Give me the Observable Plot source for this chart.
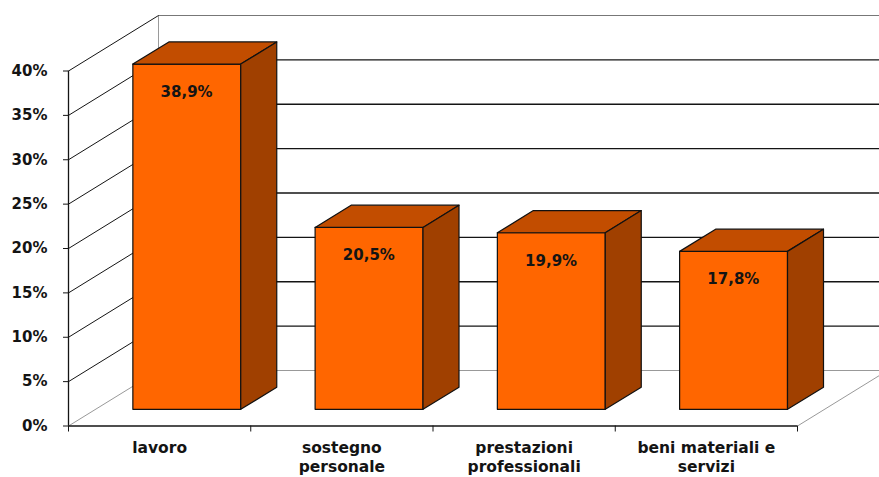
<!DOCTYPE html>
<html>
<head>
<meta charset="utf-8">
<script src="https://cdn.jsdelivr.net/npm/d3@7"></script>
<script src="https://cdn.jsdelivr.net/npm/@observablehq/plot@0.6"></script>
<style>
  html, body { margin: 0; padding: 0; background: #fff; }
  #chart { width: 879px; height: 477px; overflow: hidden; }
</style>
</head>
<body>
<div id="chart"></div>
<script>
// Share of requests by type (percent)
const categories = ["lavoro", "sostegno personale", "prestazioni professionali", "beni materiali e servizi"];
const categoryLabels = ["lavoro", "sostegno\npersonale", "prestazioni\nprofessionali", "beni materiali e\nservizi"];
const values = [38.9, 20.5, 19.9, 17.8];
const yTicks = [0, 5, 10, 15, 20, 25, 30, 35, 40];

// Frame and oblique depth (pixels)
const W = 879, H = 477;
const ML = 68, MR = 82, MT = 70.5, MB = 51.5;
const depthPx = [90, 55.5];
const pxPerX = (W - ML - MR) / categories.length;
const pxPerY = (H - MT - MB) / 40;
const DX = depthPx[0] / pxPerX;   // full depth, in x units
const DY = depthPx[1] / pxPerY;   // full depth, in y units
const d0 = 0.3, d1 = 0.7;         // bar front / back depth
const a = 0.205, b = 0.797;       // bar extent within a category slot

const P = (x, y, d) => ({x: x + d * DX, y: y + d * DY});

// Bar faces as closed polygons
const faces = [];
values.forEach((v, i) => {
  const add = (face, pts) => {
    [...pts, pts[0]].forEach(p => faces.push({bar: i, face, x: p.x, y: p.y}));
  };
  add("front", [P(i + a, 0, d0), P(i + a, v, d0), P(i + b, v, d0), P(i + b, 0, d0)]);
  add("top",   [P(i + a, v, d0), P(i + a, v, d1), P(i + b, v, d1), P(i + b, v, d0)]);
  add("side",  [P(i + b, 0, d0), P(i + b, v, d0), P(i + b, v, d1), P(i + b, 0, d1)]);
});
const faceColor = {front: "#ff6600", top: "#c24d00", side: "#a04000"};

const ink = "#141414";
const grid = yTicks.filter(t => t > 0 && t < 40);

const chart = Plot.plot({
  width: W,
  height: H,
  marginLeft: ML,
  marginRight: MR,
  marginTop: MT,
  marginBottom: MB,
  style: {fontFamily: "DejaVu Sans", fontSize: "15px", background: "#fff", overflow: "hidden"},
  x: {domain: [0, categories.length], label: null},
  y: {domain: [0, 40], label: null},
  marks: [
    // back wall
    Plot.ruleX([0], {x: DX, y1: DY, y2: 40 + DY, stroke: "#9a9a9a", strokeWidth: 1}),
    Plot.ruleY(grid, {y: t => t + DY, x1: DX, x2: categories.length + DX, stroke: ink, strokeWidth: 1.4}),
    Plot.ruleY([40], {y: t => t + DY, x1: DX, x2: categories.length + DX, stroke: "#777", strokeWidth: 1.2}),
    // left wall
    Plot.link(yTicks.filter(t => t > 0), {x1: 0, y1: t => t, x2: DX, y2: t => t + DY, stroke: ink, strokeWidth: 1}),
    // floor
    Plot.ruleY([0], {y: DY, x1: DX, x2: categories.length + DX, stroke: "#999", strokeWidth: 1}),
    Plot.link([0, categories.length], {x1: x => x, y1: 0, x2: x => x + DX, y2: DY, stroke: "#999", strokeWidth: 1}),
    // axes
    Plot.ruleX([0], {y1: 0, y2: 40, stroke: ink, strokeWidth: 1.3}),
    Plot.ruleY([0], {x1: 0, x2: categories.length, stroke: ink, strokeWidth: 1.3}),
    Plot.axisY({ticks: yTicks, tickSize: 5, tickPadding: 16, tickFormat: d => d + "%", label: null,
      fontWeight: "bold", fontSize: 15, fill: ink, stroke: ink}),
    Plot.axisX({ticks: d3.range(categories.length + 1), tickSize: 6, tickFormat: () => "", label: null, stroke: ink}),
    Plot.text(categoryLabels, {x: (d, i) => i + 0.5, y: 0, text: d => d, dy: 14,
      lineAnchor: "top", lineHeight: 1.22, fontWeight: "bold", fontSize: 15.5, fill: ink}),
    // bars
    ...values.flatMap((v, i) => ["front", "top", "side"].map(face =>
      Plot.line(faces.filter(f => f.bar === i && f.face === face), {
        x: "x", y: "y", fill: faceColor[face], stroke: "#111", strokeWidth: 1.2, strokeLinejoin: "round"
      })
    )),
    // value labels
    Plot.text(values, {x: (d, i) => i + 0.5 + d0 * DX, y: d => d + d0 * DY,
      text: d => d.toFixed(1).replace(".", ",") + "%", dy: 28,
      fontWeight: "bold", fontSize: 15, fill: ink})
  ]
});
document.getElementById("chart").append(chart);
</script>
</body>
</html>
